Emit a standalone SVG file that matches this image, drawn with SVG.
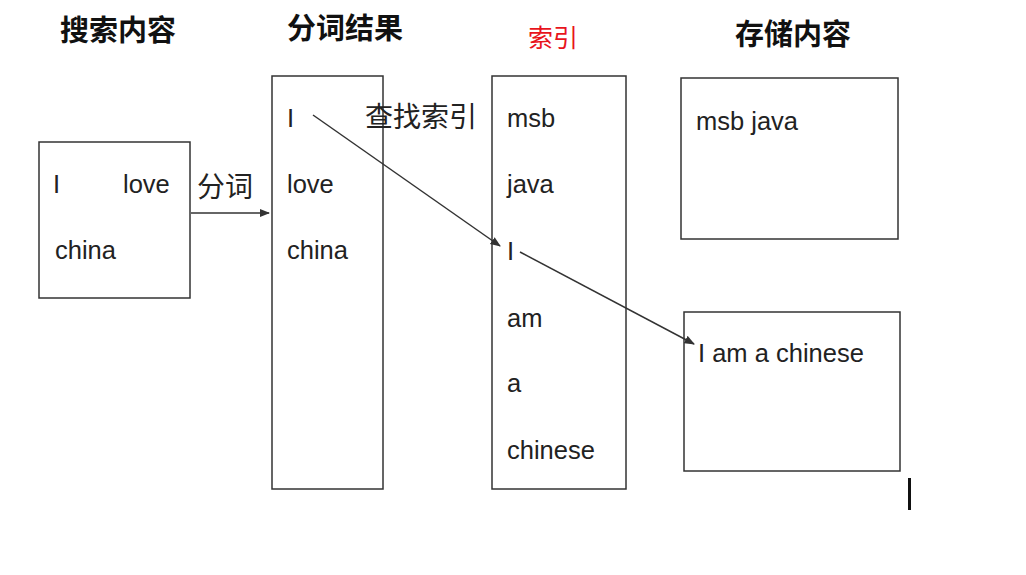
<svg xmlns="http://www.w3.org/2000/svg" width="1026" height="575" viewBox="0 0 1026 575">
<style>
.box{fill:#fff;stroke:#333;stroke-width:1.5}
.h{font-family:"Noto Sans CJK SC",sans-serif;font-weight:bold;font-size:29px;fill:#111}
.t{font-family:"Liberation Sans","Noto Sans CJK SC",sans-serif;font-size:25.5px;fill:#222}
.z{font-family:"Noto Sans CJK SC",sans-serif;font-size:28px;fill:#222}
.c{stroke:#333;stroke-width:1.5;fill:none;marker-end:url(#a)}
</style>
<defs><marker id="a" viewBox="0 0 10 10" refX="9" refY="5" markerWidth="7" markerHeight="7" orient="auto"><path d="M0,1 L10,5 L0,9 z" fill="#333"/></marker></defs>
<rect width="1026" height="575" fill="#fff"/>
<text class="h" x="60" y="41">搜索内容</text>
<text class="h" x="287" y="39">分词结果</text>
<text x="528" y="47" style="font-family:'Noto Sans CJK SC',sans-serif;font-size:25px;fill:#e8141c">索引</text>
<text class="h" x="735" y="45">存储内容</text>
<g id="search"><rect class="box" x="39" y="142" width="151" height="156"/>
<text class="t" x="53" y="193">I</text><text class="t" x="123" y="193">love</text><text class="t" x="55" y="259">china</text></g>
<g id="terms"><rect class="box" x="272" y="76" width="111" height="413"/>
<text class="t" x="287" y="127">I</text><text class="t" x="287" y="193">love</text><text class="t" x="287" y="259">china</text></g>
<g id="index"><rect class="box" x="492" y="76" width="134" height="413"/>
<text class="t" x="507" y="127">msb</text><text class="t" x="507" y="193">java</text><text class="t" x="507" y="260">I</text><text class="t" x="507" y="327">am</text><text class="t" x="507" y="392">a</text><text class="t" x="507" y="459">chinese</text></g>
<g id="store1"><rect class="box" x="681" y="78" width="217" height="161"/><text class="t" x="696" y="130">msb java</text></g>
<g id="store2"><rect class="box" x="684" y="312" width="216" height="159"/><text class="t" x="698" y="362">I am a chinese</text></g>
<g id="connectors">
<path class="c" d="M191,213 L269,213"/>
<path class="c" d="M313,115 L500,246"/>
<path class="c" d="M520,252 L694,344"/>
<text class="z" x="197" y="197">分词</text>
<text class="z" x="365" y="127">查找索引</text>
</g>
<rect x="908" y="478" width="3" height="32" fill="#111"/>
</svg>
